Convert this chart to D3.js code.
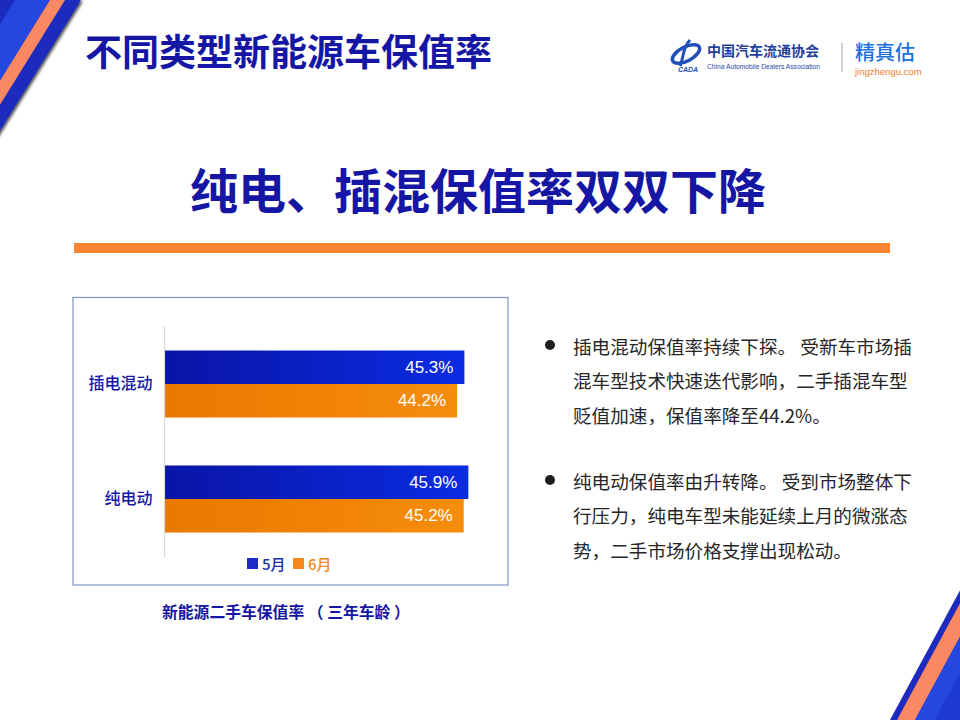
<!DOCTYPE html>
<html><head><meta charset="utf-8">
<script src="https://cdn.jsdelivr.net/npm/d3@7"></script>
<style>body{margin:0;background:#fff} svg{display:block}</style>
</head><body><svg id="c" width="960" height="720"></svg>
<script>
// ---- data ----
const categories = ["插电混动", "纯电动"];
const seriesNames = ["5月", "6月"];
const mayValues = [45.3, 45.9];
const juneValues = [44.2, 45.2];
const pageTitle = "不同类型新能源车保值率";
const headline = "纯电、插混保值率双双下降";
const caption = "新能源二手车保值率 （ 三年车龄 ）";
const bullet1 = ["插电混动保值率持续下探。 受新车市场插", "混车型技术快速迭代影响，二手插混车型", "贬值加速，保值率降至44.2%。"];
const bullet2 = ["纯电动保值率由升转降。 受到市场整体下", "行压力，纯电车型未能延续上月的微涨态", "势，二手市场价格支撑出现松动。"];

const CJK = "'Noto Sans CJK SC','Noto Sans',sans-serif";
const NAVY = "#1616a4";
const svg = d3.select("#c");

// ---- defs ----
const defs = svg.append("defs");
const gB = defs.append("linearGradient").attr("id", "gBlue");
gB.append("stop").attr("offset", "0%").attr("stop-color", "#0a14a6");
gB.append("stop").attr("offset", "100%").attr("stop-color", "#0a2ce2");
const gO = defs.append("linearGradient").attr("id", "gOrange");
gO.append("stop").attr("offset", "0%").attr("stop-color", "#e97800");
gO.append("stop").attr("offset", "100%").attr("stop-color", "#f78d0c");
const sh = defs.append("filter").attr("id", "shadow").attr("x", "-20%").attr("y", "-20%").attr("width", "140%").attr("height", "140%");
sh.append("feDropShadow").attr("dx", 2).attr("dy", 1).attr("stdDeviation", 1.6).attr("flood-color", "#000").attr("flood-opacity", 0.7);

// ---- corner stripes ----
function band(a, b, s, y0, y1, dir) {
  const d = y1 - y0;
  return [[a, y0], [b, y0], [b - dir * s * d, y1], [a - dir * s * d, y1]];
}
const line = d3.line();
const tl = svg.append("g");
tl.append("path").attr("d", line(band(-300, 81, 0.62, 0, 300, 1)) + "Z").attr("fill", "#1a2cbe").attr("filter", "url(#shadow)");
tl.append("path").attr("d", line(band(15, 50, 0.62, 0, 300, 1)) + "Z").attr("fill", "#2447e0");
tl.append("path").attr("d", line(band(50, 65, 0.62, 0, 300, 1)) + "Z").attr("fill", "#fa8862");

const br = svg.append("g");
function bandUp(a, b, s) {
  const d = 300;
  return [[a, 720], [b, 720], [b + s * d, 720 - d], [a + s * d, 720 - d]];
}
br.append("path").attr("d", line(bandUp(890, 1400, 0.54)) + "Z").attr("fill", "#1a2cbe").attr("filter", "url(#shadow)");
br.append("path").attr("d", line(bandUp(897, 915, 0.54)) + "Z").attr("fill", "#fa8862");
br.append("path").attr("d", line(bandUp(915, 935, 0.54)) + "Z").attr("fill", "#2447e0");
br.append("path").attr("d", line(bandUp(935, 1400, 0.54)) + "Z").attr("fill", "#1f3ad2");

// ---- titles ----
svg.append("text").attr("x", 85).attr("y", 50).attr("dominant-baseline", "central")
  .attr("font-family", CJK).attr("font-size", 37).attr("font-weight", 700).attr("fill", NAVY).text(pageTitle);
svg.append("text").attr("x", 478).attr("y", 188).attr("dominant-baseline", "central").attr("text-anchor", "middle")
  .attr("font-family", CJK).attr("font-size", 48).attr("font-weight", 700).attr("fill", NAVY).text(headline);
svg.append("rect").attr("x", 74).attr("y", 243).attr("width", 816).attr("height", 10).attr("fill", "#ff8432");

// ---- logos ----
const lg = svg.append("g");
lg.append("ellipse").attr("cx", 686).attr("cy", 54).attr("rx", 15).attr("ry", 7).attr("transform", "rotate(-28,686,54)")
  .attr("fill", "none").attr("stroke", "#1f4fb8").attr("stroke-width", 3.5);
lg.append("path").attr("d", "M690,40 C682,48 684,58 680,66").attr("fill", "none").attr("stroke", "#1f4fb8").attr("stroke-width", 3);
lg.append("text").attr("x", 688).attr("y", 72).attr("text-anchor", "middle").attr("font-family", "Liberation Sans")
  .attr("font-size", 7).attr("font-style", "italic").attr("font-weight", 700).attr("fill", "#1f4fb8").text("CADA");
lg.append("text").attr("x", 707).attr("y", 50).attr("dominant-baseline", "central").attr("font-family", CJK)
  .attr("font-size", 14).attr("font-weight", 700).attr("fill", "#1f3f9e").text("中国汽车流通协会");
lg.append("text").attr("x", 707).attr("y", 66).attr("dominant-baseline", "central").attr("font-family", "Liberation Sans")
  .attr("font-size", 6.7).attr("fill", "#2a4aa8").text("China Automobile Dealers Association");
lg.append("line").attr("x1", 842).attr("x2", 842).attr("y1", 43).attr("y2", 72).attr("stroke", "#b0b0b0").attr("stroke-width", 1.2);
lg.append("text").attr("x", 855).attr("y", 51).attr("dominant-baseline", "central").attr("font-family", CJK)
  .attr("font-size", 20).attr("font-weight", 500).attr("fill", "#1e6fdc").text("精真估");
lg.append("text").attr("x", 855).attr("y", 71).attr("dominant-baseline", "central").attr("font-family", "Liberation Sans")
  .attr("font-size", 9.5).attr("fill", "#f07a28").text("jingzhengu.com");

// ---- chart frame ----
svg.append("rect").attr("x", 73).attr("y", 297.5).attr("width", 435).attr("height", 287.5)
  .attr("fill", "none").attr("stroke", "#8494cc").attr("stroke-width", 1.2);

const x = d3.scaleLinear().domain([0, 50]).range([164.5, 495.5]);
const y0 = d3.scaleBand().domain(categories).range([326, 557]).paddingInner(0.417).paddingOuter(0.213);
const y1 = d3.scaleBand().domain(seriesNames).range([0, y0.bandwidth()]);
const rows = categories.map((c, i) => ({ cat: c, vals: [
  { s: seriesNames[0], v: mayValues[i], fill: "url(#gBlue)" },
  { s: seriesNames[1], v: juneValues[i], fill: "url(#gOrange)" }] }));

const plot = svg.append("g");
const grp = plot.selectAll("g.cat").data(rows).join("g").attr("class", "cat")
  .attr("transform", d => `translate(0,${y0(d.cat)})`);
grp.selectAll("rect").data(d => d.vals).join("rect")
  .attr("x", x(0)).attr("y", d => y1(d.s)).attr("width", d => x(d.v) - x(0)).attr("height", y1.bandwidth())
  .attr("fill", d => d.fill);
grp.selectAll("text.val").data(d => d.vals).join("text").attr("class", "val")
  .attr("x", d => x(d.v) - 11).attr("y", d => y1(d.s) + y1.bandwidth() / 2).attr("dominant-baseline", "central")
  .attr("text-anchor", "end").attr("font-family", "'Liberation Sans',Arial,sans-serif").attr("font-size", 17)
  .attr("fill", "#fff").text(d => d.v.toFixed(1) + "%");

// y axis
const yAxis = d3.axisLeft(y0).tickSize(0).tickPadding(12);
const ag = svg.append("g").attr("transform", `translate(${x(0)},0)`).call(yAxis);
ag.select(".domain").attr("d", "M0,326V557").attr("stroke", "#d8d8d8").attr("stroke-width", 1.2);
ag.selectAll(".tick text").attr("font-family", CJK).attr("font-size", 16).attr("font-weight", 500).attr("fill", NAVY);

// legend
const legColors = ["#1a2cc8", "#f5891f"];
const legText = ["#1a2cb0", "#f5891f"];
const leg = svg.append("g").selectAll("g").data(seriesNames).join("g")
  .attr("transform", (d, i) => `translate(${247 + i * 46},558)`);
leg.append("rect").attr("width", 11).attr("height", 11).attr("fill", (d, i) => legColors[i]);
leg.append("text").attr("x", 15).attr("y", 5.5).attr("dominant-baseline", "central").attr("font-family", CJK)
  .attr("font-size", 15).attr("font-weight", 500).attr("fill", (d, i) => legText[i]).text(d => d);

// caption
svg.append("text").attr("x", 162).attr("y", 611).attr("dominant-baseline", "central").attr("font-family", CJK)
  .attr("font-size", 15.8).attr("font-weight", 700).attr("fill", NAVY).text(caption);

// ---- bullet text ----
function para(lines, yStart) {
  svg.append("circle").attr("cx", 550).attr("cy", yStart).attr("r", 5).attr("fill", "#1f1f1f");
  svg.append("g").selectAll("text").data(lines).join("text")
    .attr("x", 573).attr("y", (d, i) => yStart + i * 34.7).attr("dominant-baseline", "central")
    .attr("font-family", CJK).attr("font-size", 18.6).attr("font-weight", 400).attr("fill", "#262626").text(d => d);
}
para(bullet1, 345);
para(bullet2, 480);
</script>
</body></html>
